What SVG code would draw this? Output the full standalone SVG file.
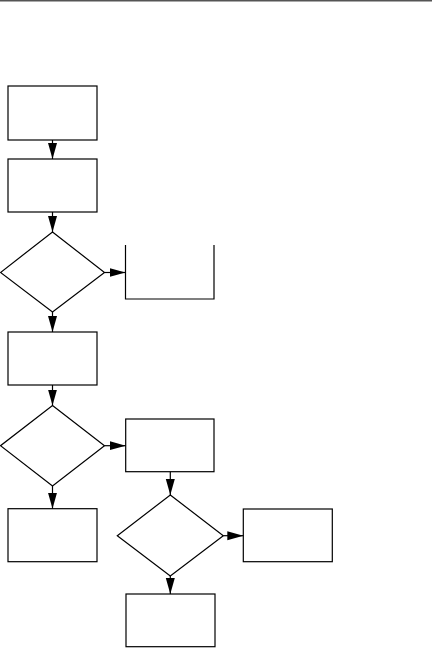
<svg xmlns="http://www.w3.org/2000/svg" width="432" height="648" viewBox="0 0 432 648">
<style>
.n{fill:none;stroke:#000;stroke-width:1.2}
.c{fill:none;stroke:#000;stroke-width:1.2;marker-end:url(#ah)}
</style>
<defs>
<marker id="ah" markerUnits="userSpaceOnUse" markerWidth="17" markerHeight="10" refX="16" refY="4.5" orient="auto">
<path d="M0,0 L16,4.5 L0,9 z" fill="#000"/>
</marker>
</defs>
<rect width="432" height="648" fill="#fff"/>
<line x1="0" y1="0.8" x2="432" y2="0.8" stroke="#555" stroke-width="1.6"/>
<g id="box1"><rect class="n" x="8" y="86" width="89" height="54"/></g>
<g id="box2"><rect class="n" x="8" y="159" width="89" height="53"/></g>
<g id="dec1"><polygon class="n" points="52.5,232 104.5,272.5 52.5,312 0.5,272.5"/></g>
<g id="open1"><polyline class="n" points="125.5,245 125.5,299 214,299 214,245"/></g>
<g id="box3"><rect class="n" x="8" y="332" width="89" height="53"/></g>
<g id="dec2"><polygon class="n" points="52.5,405.5 104.5,445.7 52.5,486 0.5,445.7"/></g>
<g id="box4"><rect class="n" x="125.7" y="419" width="88.3" height="52.7"/></g>
<g id="box7"><rect class="n" x="8" y="508.7" width="89" height="53"/></g>
<g id="dec3"><polygon class="n" points="170.3,495 223.3,535.7 170.3,576 117.3,535.7"/></g>
<g id="box5"><rect class="n" x="243.3" y="509" width="89" height="52.7"/></g>
<g id="box6"><rect class="n" x="126" y="594" width="89" height="52.7"/></g>
<g id="connectors">
<line class="c" x1="52.5" y1="140" x2="52.5" y2="159"/>
<line class="c" x1="52.5" y1="212" x2="52.5" y2="232"/>
<line class="c" x1="104.5" y1="272.5" x2="125.5" y2="272.5"/>
<line class="c" x1="52.5" y1="312" x2="52.5" y2="332"/>
<line class="c" x1="52.5" y1="385" x2="52.5" y2="405.5"/>
<line class="c" x1="104.5" y1="445.7" x2="125.7" y2="445.7"/>
<line class="c" x1="52.5" y1="486" x2="52.5" y2="508.7"/>
<line class="c" x1="170.3" y1="471.7" x2="170.3" y2="495"/>
<line class="c" x1="223.3" y1="535.7" x2="243.3" y2="535.7"/>
<line class="c" x1="170.3" y1="576" x2="170.3" y2="594"/>
</g>
</svg>
